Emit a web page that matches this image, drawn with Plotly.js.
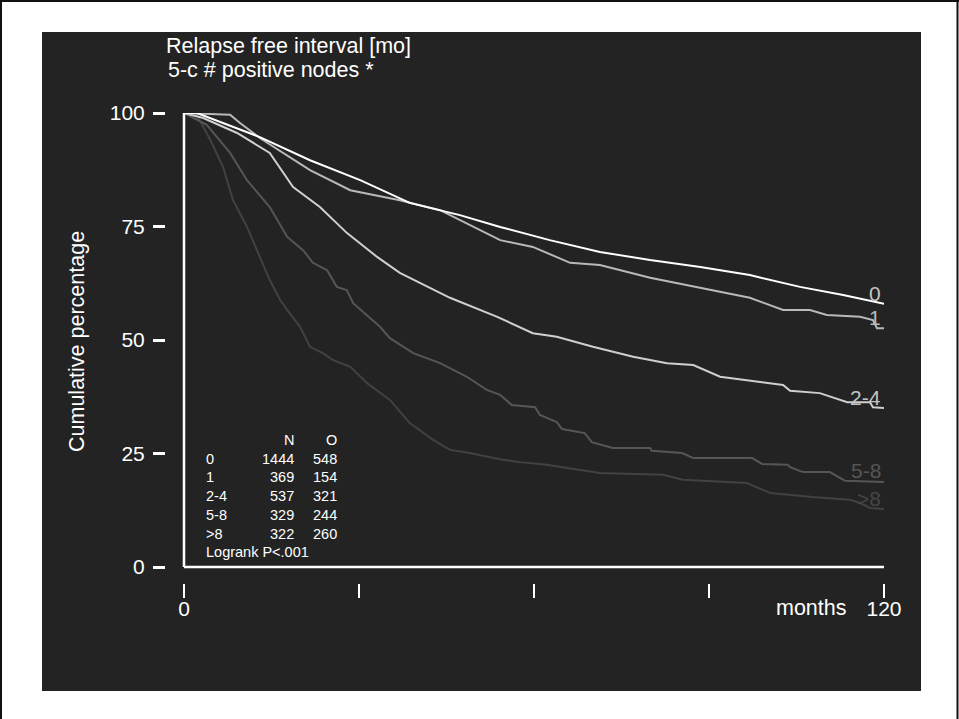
<!DOCTYPE html>
<html>
<head>
<meta charset="utf-8">
<script src="https://cdn.plot.ly/plotly-3.0.1.min.js"></script>
<style>
html,body{margin:0;padding:0;background:#ffffff;}
#chart{width:959px;height:719px;}
</style>
</head>
<body>
<div id="chart"></div>
<script>
// ---- data ----
const groups = ['0', '1', '2-4', '5-8', '>8'];
const nValues = [1444, 369, 537, 329, 322];
const oValues = [548, 154, 321, 244, 260];

const months0 = [0, 2.2, 13.0, 21.6, 30.2, 38.7, 47.3, 54.2, 62.7, 71.3, 79.9, 88.5, 97.0, 105.6, 113.0, 118.8, 120];
const pct0    = [100, 100, 94.7, 89.6, 85.2, 80.2, 77.5, 74.9, 72.0, 69.4, 67.6, 66.1, 64.3, 61.7, 59.9, 58.4, 58.0];

const months1 = [0, 7.9, 9.6, 13.0, 21.6, 28.5, 37.0, 43.9, 54.2, 59.8, 66.2, 71.3, 79.9, 88.5, 97.0, 102.7, 107.3, 110.2, 115.9, 118.1, 118.8, 120];
const pct1    = [100, 99.6, 97.8, 94.5, 87.4, 83.0, 80.8, 78.6, 72.0, 70.5, 67.0, 66.5, 63.7, 61.5, 59.3, 56.6, 56.6, 55.5, 55.1, 54.4, 52.6, 52.6];

const months24 = [0, 3.3, 9.1, 14.7, 18.7, 23.3, 27.9, 33.1, 37.0, 41.7, 45.6, 53.7, 59.8, 63.9, 70.1, 77.0, 82.8, 87.3, 91.9, 102.7, 103.9, 109.0, 113.7, 117.6, 118.1, 120];
const pct24    = [100, 98.9, 95.6, 91.2, 83.7, 79.3, 73.6, 68.3, 64.8, 61.7, 59.3, 55.1, 51.5, 50.7, 48.5, 46.3, 44.9, 44.5, 41.9, 40.1, 38.8, 38.3, 36.3, 36.3, 35.2, 35.0];

const months58 = [0, 3.9, 7.9, 10.8, 14.7, 17.7, 20.4, 22.1, 24.5, 26.2, 27.9, 29.0, 33.6, 35.3, 39.3, 43.9, 48.5, 51.9, 54.2, 56.2, 60.2, 61.0, 63.9, 64.8, 68.7, 69.9, 73.5, 79.9, 80.2, 85.4, 87.3, 97.4, 99.1, 103.5, 103.9, 106.1, 110.7, 113.3, 120];
const pct58    = [100, 97.4, 91.2, 85.2, 79.3, 72.7, 69.8, 67.0, 65.4, 61.7, 61.0, 58.1, 52.9, 50.4, 47.1, 44.9, 41.9, 39.0, 37.9, 35.7, 35.2, 33.5, 31.9, 30.4, 29.5, 27.5, 26.2, 26.2, 25.6, 25.1, 24.0, 24.0, 22.7, 22.5, 22.0, 20.9, 20.9, 19.0, 18.7];

const months8 = [0, 2.2, 4.5, 6.7, 8.4, 10.8, 13.0, 14.7, 16.5, 17.7, 19.9, 21.6, 23.8, 25.5, 28.5, 31.4, 35.3, 38.7, 42.7, 45.6, 49.0, 54.7, 57.6, 62.2, 65.7, 71.3, 82.1, 85.5, 96.5, 98.2, 100.5, 107.7, 114.2, 115.9, 117.6, 120];
const pct8    = [100, 99.6, 94.1, 88.1, 80.8, 74.9, 68.3, 63.2, 58.8, 56.6, 52.9, 48.5, 47.1, 45.6, 44.1, 40.5, 36.8, 31.7, 28.0, 25.8, 25.1, 23.6, 23.1, 22.5, 21.8, 20.7, 20.3, 19.2, 18.5, 17.6, 16.3, 15.4, 14.8, 14.1, 13.0, 12.8];

const xTickVals = [0, 30, 60, 90, 120];
const xTickText = ['0', '', '', '', '120'];
const yTickVals = [0, 25, 50, 75, 100];
const yTickText = ['0', '25', '50', '75', '100'];

// ---- styling ----
const lineColors = ['#ffffff', '#b9b9b9', '#cfcfcf', '#565656', '#424242'];
const labelColors = ['#c4c4c4', '#b9b9b9', '#c4c4c4', '#565656', '#464646'];
const FONT = 'Liberation Sans, Arial, sans-serif';

// plot area geometry (px)
const W = 959, H = 719;
const L = 166, R = 75, T = 113, B = 136;
const pw = W - L - R, ph = H - T - B;
const px = v => (v - L) / pw;            // pixel x -> paper x
const py = v => (H - B - v) / ph;        // pixel y -> paper y

const xs = [months0, months1, months24, months58, months8];
const ys = [pct0, pct1, pct24, pct58, pct8];

const traces = groups.map((g, i) => ({
  type: 'scatter', mode: 'lines', name: g,
  x: xs[i], y: ys[i],
  line: {color: lineColors[i], width: 2, shape: 'linear'},
  hoverinfo: 'skip', showlegend: false
}));
traces.reverse();

const annotations = [];
// second title line
annotations.push({xref:'paper', yref:'paper', x: px(166), y: py(70), xanchor:'left', yanchor:'middle',
  text:'5-c # positive nodes *', showarrow:false, font:{family:FONT, size:21.5, color:'#ffffff'}});
// y axis title
annotations.push({xref:'paper', yref:'paper', x: px(77), y: py(342), xanchor:'center', yanchor:'middle',
  textangle:-90, text:'Cumulative percentage', showarrow:false, font:{family:FONT, size:21.5, color:'#ffffff'}});
// months label
annotations.push({xref:'paper', yref:'paper', x: px(849), y: py(608), xanchor:'right', yanchor:'middle',
  text:'months', showarrow:false, font:{family:FONT, size:21.5, color:'#ffffff'}});
// end labels
const endLabelY = [293, 317, 397, 470, 498];
groups.forEach((g, i) => {
  annotations.push({xref:'paper', yref:'paper', x: px(883), y: py(endLabelY[i]), xanchor:'right', yanchor:'middle',
    text: g.replace('>', '&gt;'), showarrow:false, font:{family:FONT, size:21, color:labelColors[i]}});
});
// table
const tf = {family:FONT, size:14.5, color:'#ffffff'};
const rowY0 = 440, rowStep = 18.7;
annotations.push({xref:'paper', yref:'paper', x: px(296), y: py(rowY0), xanchor:'right', yanchor:'middle', text:'N', showarrow:false, font:tf});
annotations.push({xref:'paper', yref:'paper', x: px(339), y: py(rowY0), xanchor:'right', yanchor:'middle', text:'O', showarrow:false, font:tf});
groups.forEach((g, i) => {
  const yy = py(rowY0 + rowStep * (i + 1));
  annotations.push({xref:'paper', yref:'paper', x: px(204), y: yy, xanchor:'left', yanchor:'middle', text: g.replace('>', '&gt;'), showarrow:false, font:tf});
  annotations.push({xref:'paper', yref:'paper', x: px(296), y: yy, xanchor:'right', yanchor:'middle', text: String(nValues[i]), showarrow:false, font:tf});
  annotations.push({xref:'paper', yref:'paper', x: px(339), y: yy, xanchor:'right', yanchor:'middle', text: String(oValues[i]), showarrow:false, font:tf});
});
annotations.push({xref:'paper', yref:'paper', x: px(204), y: py(rowY0 + rowStep * 6), xanchor:'left', yanchor:'middle', text:'Logrank P&lt;.001', showarrow:false, font:tf});

const shapes = [
  // dark panel
  {type:'rect', xref:'paper', yref:'paper', x0: px(42), x1: px(921), y0: py(691), y1: py(32), fillcolor:'#232323', line:{width:0}, layer:'below'},
  // outer frame (left, top, right)
  {type:'line', xref:'paper', yref:'paper', x0: px(1), x1: px(1), y0: py(0), y1: py(719), line:{color:'#111', width:2}},
  {type:'line', xref:'paper', yref:'paper', x0: px(0), x1: px(959), y0: py(1), y1: py(1), line:{color:'#111', width:2}},
  {type:'line', xref:'paper', yref:'paper', x0: px(957.5), x1: px(957.5), y0: py(0), y1: py(719), line:{color:'#111', width:2}},
  // axis frame lines
  {type:'line', xref:'x', yref:'y', x0: 0, x1: 0, y0: 0, y1: 100, line:{color:'#ffffff', width:2.5}, layer:'above'},
  {type:'line', xref:'x', yref:'y', x0: 0, x1: 120, y0: 0, y1: 0, line:{color:'#ffffff', width:2.5}, layer:'above'}
];

const layout = {
  width: W, height: H,
  margin: {l: L, r: R, t: T, b: B, pad: 0},
  paper_bgcolor: '#ffffff',
  plot_bgcolor: 'rgba(0,0,0,0)',
  font: {family: FONT, color: '#ffffff', size: 21},
  title: {text: 'Relapse free interval [mo]', xref:'paper', x: px(166), xanchor:'left', yref:'container', y: 1 - 45.5/H, yanchor:'middle',
          font:{family:FONT, size:21.5, color:'#ffffff'}},
  showlegend: false,
  xaxis: {
    range: [-18 * 120 / 700, 120], autorange: false,
    tickvals: xTickVals, ticktext: xTickText,
    ticks: 'outside', ticklen: 14, tickwidth: 2, tickcolor: '#ffffff',
    ticklabelstandoff: -7,
    showline: false, showgrid: false, zeroline: false,
    tickfont: {family: FONT, size: 21, color: '#ffffff'}
  },
  yaxis: {
    range: [-16 * 100 / 454, 100], autorange: false,
    tickvals: yTickVals, ticktext: yTickText,
    ticks: 'outside', ticklen: 12, tickwidth: 3, tickcolor: '#ffffff',
    ticklabelstandoff: 4,
    showline: false, showgrid: false, zeroline: false,
    tickfont: {family: FONT, size: 21, color: '#ffffff'}
  },
  shapes: shapes,
  annotations: annotations
};

Plotly.newPlot('chart', traces, layout, {staticPlot: true, displayModeBar: false});
</script>
</body>
</html>
